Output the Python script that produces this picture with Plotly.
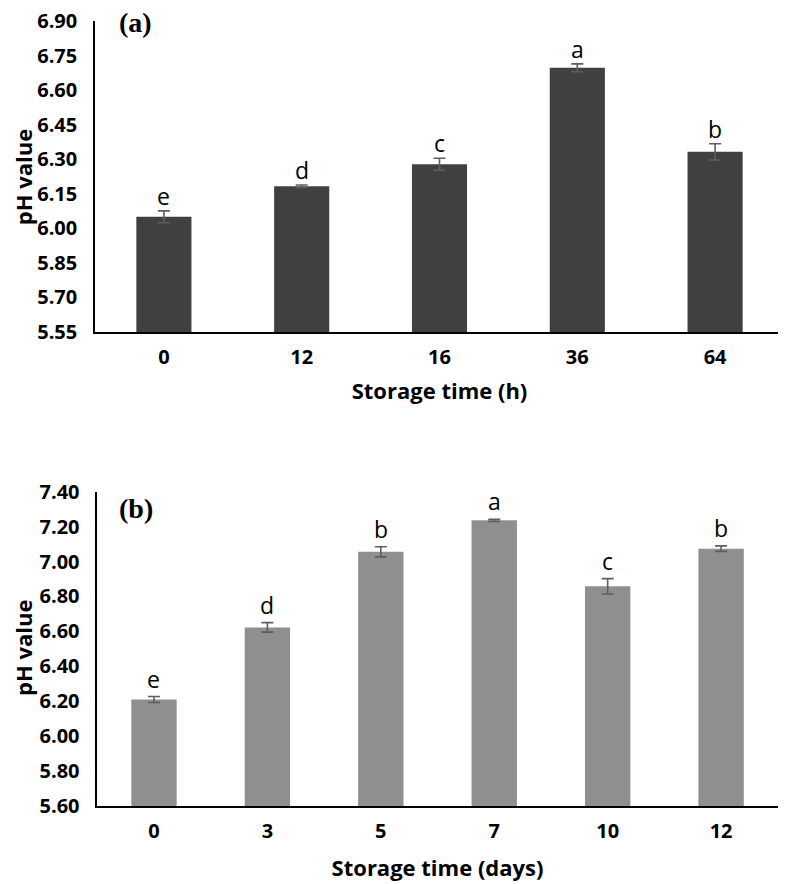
import plotly.graph_objects as go

# ---- Data: panel (a) ----
hours = ["0", "12", "16", "36", "64"]
ph_a = [6.05, 6.183, 6.278, 6.697, 6.332]
err_a = [0.026, 0.005, 0.026, 0.017, 0.035]
letters_a = ["e", "d", "c", "a", "b"]
yticks_a = [5.55, 5.70, 5.85, 6.00, 6.15, 6.30, 6.45, 6.60, 6.75, 6.90]

# ---- Data: panel (b) ----
days = ["0", "3", "5", "7", "10", "12"]
ph_b = [6.21, 6.623, 7.056, 7.236, 6.858, 7.074]
err_b = [0.017, 0.027, 0.029, 0.006, 0.044, 0.016]
letters_b = ["e", "d", "b", "a", "c", "b"]
yticks_b = [5.60, 5.80, 6.00, 6.20, 6.40, 6.60, 6.80, 7.00, 7.20, 7.40]

TICK_FONT = dict(family="Open Sans", size=20, color="#000000", weight="bold")
TITLE_FONT = dict(family="Open Sans", size=22, color="#000000", weight="bold")
LETTER_FONT = dict(family="Open Sans", size=23, color="#000000")

fig = go.Figure()

fig.add_trace(go.Bar(
    x=hours, y=ph_a, xaxis="x", yaxis="y",
    marker=dict(color="#404040", line=dict(width=0)),
    error_y=dict(type="data", array=err_a, color="#5e5e5e", thickness=1.6, width=6),
    width=0.4, showlegend=False,
))
fig.add_trace(go.Bar(
    x=days, y=ph_b, xaxis="x2", yaxis="y2",
    marker=dict(color="#8f8f8f", line=dict(width=0)),
    error_y=dict(type="data", array=err_b, color="#5e5e5e", thickness=1.6, width=6),
    width=0.4, showlegend=False,
))

annotations = []
for i, (v, e, lab) in enumerate(zip(ph_a, err_a, letters_a)):
    annotations.append(dict(x=i, y=v + e, xref="x", yref="y", text=lab,
                            showarrow=False, yanchor="middle", yshift=15,
                            font=LETTER_FONT))
for i, (v, e, lab) in enumerate(zip(ph_b, err_b, letters_b)):
    annotations.append(dict(x=i, y=v + e, xref="x2", yref="y2", text=lab,
                            showarrow=False, yanchor="middle", yshift=18,
                            font=LETTER_FONT))

annotations.append(dict(x=0.0595, y=0.998, xref="paper", yref="paper", text="<b>(a)</b>",
                        showarrow=False, xanchor="center", yanchor="middle",
                        font=dict(family="Liberation Serif", size=28, color="#000000")))
annotations.append(dict(x=0.0595, y=0.379, xref="paper", yref="paper", text="<b>(b)</b>",
                        showarrow=False, xanchor="center", yanchor="middle",
                        font=dict(family="Liberation Serif", size=28, color="#000000")))

# y-axis titles (placed precisely as rotated text)
annotations.append(dict(x=-0.1045, y=0.801, xref="paper", yref="paper", text="pH value",
                        textangle=-90, showarrow=False, xanchor="center", yanchor="middle",
                        font=TITLE_FONT))
annotations.append(dict(x=-0.1045, y=0.2013, xref="paper", yref="paper", text="pH value",
                        textangle=-90, showarrow=False, xanchor="center", yanchor="middle",
                        font=TITLE_FONT))

axis_common = dict(showgrid=False, zeroline=False, showline=True, linecolor="#000000",
                   linewidth=1.5, ticks="", tickfont=TICK_FONT, automargin=False)

fig.update_layout(
    width=786, height=884,
    margin=dict(l=87, r=10, t=13, b=86),
    paper_bgcolor="#ffffff", plot_bgcolor="#ffffff",
    bargap=0.6,
    xaxis=dict(domain=[0, 1], anchor="y", type="category", range=[-0.5, 4.5],
               ticklabelstandoff=6,
               title=dict(text="Storage time (h)", font=TITLE_FONT, standoff=15),
               **axis_common),
    yaxis=dict(domain=[0.6038, 1.0], anchor="x", range=[5.55, 6.9001],
               tickvals=yticks_a, ticktext=[f"{t:.2f}" for t in yticks_a],
               ticklabelstandoff=12, ticklabeloverflow="allow",
               **axis_common),
    xaxis2=dict(domain=[0.0033, 0.991], anchor="y2", type="category", range=[-0.5, 5.5],
                ticklabelstandoff=6,
                title=dict(text="Storage time (days)", font=TITLE_FONT, standoff=18),
                **axis_common),
    yaxis2=dict(domain=[0.0, 0.4004], anchor="x2", range=[5.6, 7.4001],
                tickvals=yticks_b, ticktext=[f"{t:.2f}" for t in yticks_b],
                ticklabelstandoff=12, ticklabeloverflow="allow",
                **axis_common),
    annotations=annotations,
)

fig.write_html("out.html")
